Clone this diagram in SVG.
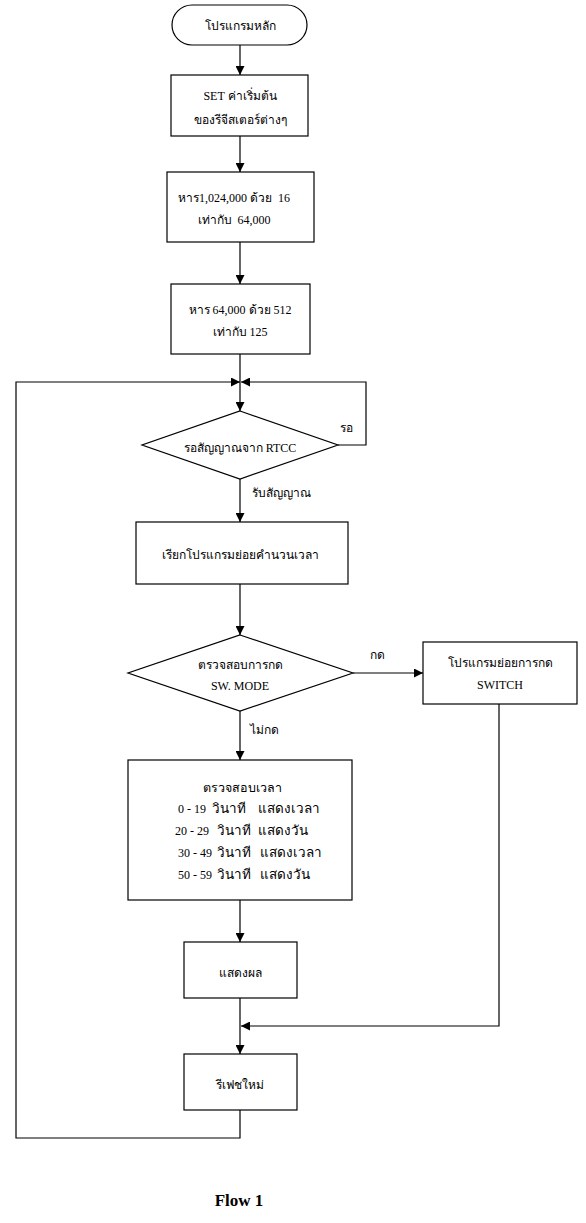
<svg xmlns="http://www.w3.org/2000/svg" width="586" height="1223" viewBox="0 0 586 1223">
<style>
.s{fill:#fff;stroke:#000;stroke-width:1.2}
.c{fill:none;stroke:#000;stroke-width:1.2}
text{font-family:"Liberation Serif","Noto Sans",serif;font-size:12px;fill:#000;white-space:pre}
.m{text-anchor:middle}
.t{font-size:13.5px}
.h{font-size:12.5px}
.b{font-weight:bold;font-size:17px}
</style>
<defs>
<marker id="a" viewBox="0 0 10 10" refX="10" refY="5" markerWidth="9" markerHeight="9" markerUnits="userSpaceOnUse" orient="auto">
<path d="M0,0 L10,5 L0,10 z" fill="#000"/>
</marker>
</defs>
<g id="connectors">
<path class="c" d="M240,45 V75" marker-end="url(#a)"/>
<path class="c" d="M240,136 V172" marker-end="url(#a)"/>
<path class="c" d="M240,242 V284" marker-end="url(#a)"/>
<path class="c" d="M240,354 V411" marker-end="url(#a)"/>
<path class="c" d="M240,1110 V1138 H16 V382 H240" marker-end="url(#a)"/>
<path class="c" d="M338,445 H366 V382 H241" marker-end="url(#a)"/>
<path class="c" d="M240,479 V522" marker-end="url(#a)"/>
<path class="c" d="M240,584 V635" marker-end="url(#a)"/>
<path class="c" d="M353,673 H423" marker-end="url(#a)"/>
<path class="c" d="M240,711 V760" marker-end="url(#a)"/>
<path class="c" d="M240,900 V942" marker-end="url(#a)"/>
<path class="c" d="M240,998 V1054" marker-end="url(#a)"/>
<path class="c" d="M499,704 V1026 H241" marker-end="url(#a)"/>
<text x="340" y="432">รอ</text>
<text x="252" y="497">รับสัญญาณ</text>
<text x="370" y="659">กด</text>
<text x="250" y="734">ไม่กด</text>
</g>
<g id="start">
<rect class="s" x="172" y="5" width="135" height="40" rx="20" ry="20"/>
<text class="m" x="240" y="30">โปรแกรมหลัก</text>
</g>
<g id="init">
<rect class="s" x="171" y="75" width="137" height="61"/>
<text class="m" x="240" y="100">SET ค่าเริ่มต้น</text>
<text class="m" x="240" y="124">ของรีจีสเตอร์ต่างๆ</text>
</g>
<g id="div1">
<rect class="s" x="167" y="172" width="147" height="70"/>
<text class="m" x="234" y="202">หาร1,024,000 ด้วย  16</text>
<text class="m" x="234" y="224">เท่ากับ  64,000</text>
</g>
<g id="div2">
<rect class="s" x="171" y="284" width="139" height="70"/>
<text class="m" x="240" y="314">หาร 64,000 ด้วย 512</text>
<text class="m" x="240" y="336">เท่ากับ 125</text>
</g>
<g id="wait">
<polygon class="s" points="240,411 338,445 240,479 142,445"/>
<text class="m" x="240" y="452">รอสัญญาณจาก RTCC</text>
</g>
<g id="calc">
<rect class="s" x="136" y="522" width="212" height="62"/>
<text class="m" x="240" y="559">เรียกโปรแกรมย่อยคำนวนเวลา</text>
</g>
<g id="check">
<polygon class="s" points="240,635 353,673 240,711 128,673"/>
<text class="m" x="240" y="669">ตรวจสอบการกด</text>
<text class="m" x="240" y="690">SW. MODE</text>
</g>
<g id="switch">
<rect class="s" x="423" y="642" width="154" height="62"/>
<text class="m" x="500" y="667">โปรแกรมย่อยการกด</text>
<text class="m" x="500" y="689">SWITCH</text>
</g>
<g id="time">
<rect class="s" x="128" y="760" width="224" height="140"/>
<text class="h" x="203" y="792">ตรวจสอบเวลา</text>
<text x="178" y="813">0 - 19<tspan class="t" x="212">วินาที</tspan><tspan class="t" x="258">แสดงเวลา</tspan></text>
<text x="175" y="835">20 - 29<tspan class="t" x="217">วินาที</tspan><tspan class="t" x="258">แสดงวัน</tspan></text>
<text x="178" y="857">30 - 49<tspan class="t" x="217">วินาที</tspan><tspan class="t" x="260">แสดงเวลา</tspan></text>
<text x="178" y="879">50 - 59<tspan class="t" x="217">วินาที</tspan><tspan class="t" x="260">แสดงวัน</tspan></text>
</g>
<g id="show">
<rect class="s" x="184" y="942" width="113" height="56"/>
<text class="m" x="240" y="977">แสดงผล</text>
</g>
<g id="refresh">
<rect class="s" x="184" y="1054" width="113" height="56"/>
<text class="m" x="240" y="1089">รีเฟชใหม่</text>
</g>
<g id="caption">
<text class="m b" x="239" y="1206">Flow 1</text>
</g>
</svg>
